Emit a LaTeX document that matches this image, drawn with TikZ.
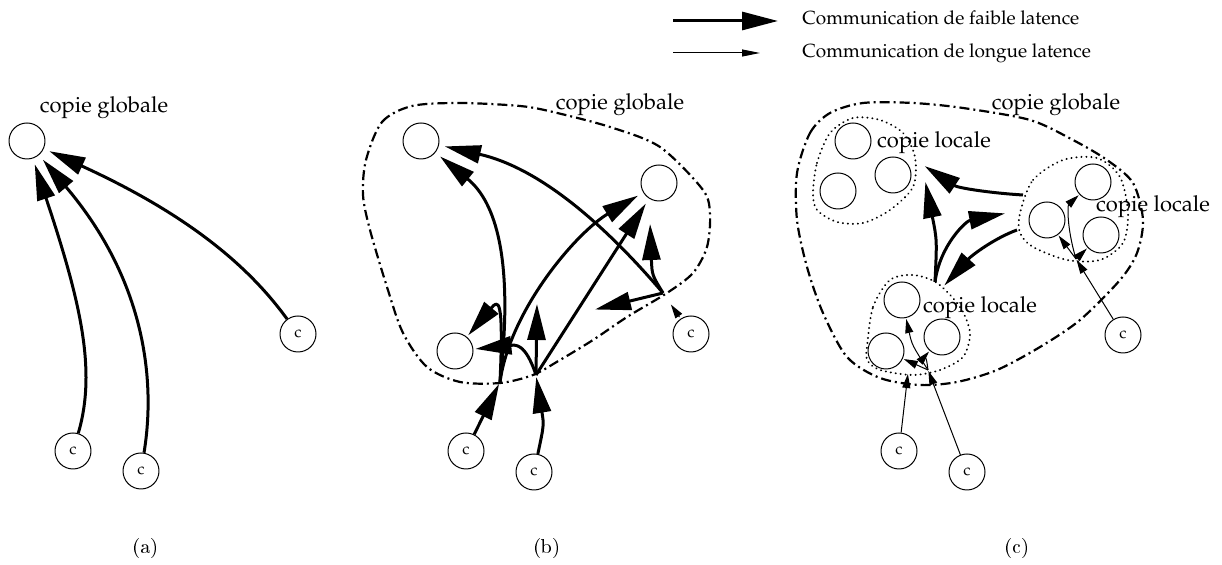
\documentclass[tikz,border=0pt]{standalone}
\usepackage[T1]{fontenc}
\usepackage{mathpazo}
\usetikzlibrary{arrows.meta}
\tikzset{
    every node/.style={font=\fontsize{11}{13}\selectfont},
    main node/.style={circle,draw,line width=0.5pt,minimum size=18pt,inner sep=0pt},
    client node/.style={main node,font=\fontsize{8}{9}\selectfont},
    label node/.style={anchor=base,inner sep=0pt},
    caption node/.style={anchor=base,inner sep=0pt,font=\sffamily\fontsize{10}{12}\selectfont},
    fast link/.style={line width=1.5pt,-{Triangle[length=18pt,width=9pt]},shorten >=1pt},
    slow link/.style={line width=0.5pt,-{Triangle[length=7pt,width=4pt]},shorten >=0.5pt},
    global copy/.style={line width=1.1pt,dash pattern=on 5pt off 2pt on 1pt off 2pt},
    local copy/.style={line width=1pt,dash pattern=on 0.1pt off 2.4pt,line cap=round}
}
\begin{document}
\begin{tikzpicture}[x=0.5pt,y=-0.5pt,line join=round]
    \useasboundingbox (0,0) rectangle (1222,565);

    \coordinate (l1) at (673,21);
    \coordinate (l2) at (778,21);
    \coordinate (l3) at (673,53);
    \coordinate (l4) at (760,53);
    \draw[fast link,shorten >=0pt] (l1) -- (l2);
    \draw[slow link,-{Triangle[length=9pt,width=3.5pt]},shorten >=0pt] (l3) -- (l4);
    \node[anchor=base west,inner sep=0pt,font=\fontsize{9.5}{11}\selectfont] (t1) at (802,25) {Communication de faible latence};
    \node[anchor=base west,inner sep=0pt,font=\fontsize{9.5}{11}\selectfont] (t2) at (802,58) {Communication de longue latence};

    \node[main node] (a0) at (27,141) {};
    \node[label node] (a label) at (104,113) {copie globale};
    \node[client node] (a1) at (73,451) {c};
    \node[client node] (a2) at (141,471) {c};
    \node[client node] (a3) at (298,334) {c};
    \draw[fast link,shorten >=3pt] (a1) .. controls (97,370) and (80,300) .. (a0);
    \draw[fast link,shorten >=3pt] (a2) .. controls (156,380) and (145,280) .. (a0);
    \draw[fast link,shorten >=3pt] (a3) .. controls (255,275) and (200,220) .. (a0);
    \node[caption node] (a caption) at (145,554) {(a)};

    \draw[global copy] plot[smooth cycle] coordinates {(366,160) (382,122) (412,106) (460,103) (520,106) (553,112) (610,127) (660,147) (703,190) (710,215) (707,247) (693,273) (667,293) (627,317) (593,340) (560,360) (533,375) (500,383) (460,382) (427,367) (403,333) (387,287) (370,230) (363,195)};
    \node[main node] (b0) at (421,141) {};
    \node[main node] (b1) at (659,183) {};
    \node[main node] (b2) at (455,351) {};
    \node[label node] (b label) at (620,110) {copie globale};
    \node[client node] (b3) at (466,451) {c};
    \node[client node] (b4) at (534,472) {c};
    \node[client node] (b5) at (691,334) {c};
    \coordinate (bA) at (500,382);
    \coordinate (bB) at (536,375);
    \coordinate (bC) at (663,293);
    \coordinate (bD) at (537,302);
    \coordinate (bE) at (650,222);
    \coordinate (bF) at (593,310);
    \draw[fast link] (b3) -- (bA);
    \draw[fast link] (b4) .. controls (544,425) .. (bB);
    \draw[fast link,shorten >=3pt] (bA) .. controls (514,260) and (496,202) .. (b0);
    \draw[fast link] (bA) .. controls (504,295) and (498,300) .. (b2);
    \draw[fast link,shorten >=3pt] (bA) .. controls (510,310) and (576,233) .. (b1);
    \draw[fast link] (bB) .. controls (525,342) and (515,345) .. (b2);
    \draw[fast link] (bB) -- (bD);
    \draw[fast link,shorten >=3pt] (bB) -- (b1);
    \draw[slow link,shorten <=1pt,shorten >=7pt] (b5) -- (bC);
    \draw[fast link,shorten >=3pt] (bC) .. controls (605,225) and (540,168) .. (b0);
    \draw[fast link] (bC) .. controls (652,275) .. (bE);
    \draw[fast link] (bC) -- (bF);
    \node[caption node] (b caption) at (547,554) {(b)};

    \draw[global copy] plot[smooth cycle] coordinates {(797,173) (810,133) (830,113) (863,103) (913,103) (963,108) (1030,120) (1073,140) (1107,160) (1133,183) (1143,220) (1137,253) (1120,280) (1080,320) (1040,347) (997,370) (957,382) (920,385) (880,378) (847,357) (823,313) (807,267) (797,220)};
    \draw[local copy] plot[smooth cycle] coordinates {(813,193) (817,163) (830,133) (853,118) (880,120) (903,133) (915,157) (913,187) (890,210) (863,223) (837,222) (817,210)};
    \draw[local copy] plot[smooth cycle] coordinates {(1020,213) (1033,180) (1063,160) (1097,158) (1120,177) (1128,213) (1123,243) (1100,260) (1067,260) (1033,247) (1020,233)};
    \draw[local copy] plot[smooth cycle] coordinates {(867,347) (873,307) (890,280) (913,275) (937,283) (960,307) (970,333) (963,357) (940,370) (913,375) (880,370) (867,360)};
    \node[main node] (c0) at (853,141) {};
    \node[main node] (c1) at (838,191) {};
    \node[main node] (c2) at (893,175) {};
    \node[main node] (c3) at (1093,182) {};
    \node[main node] (c4) at (1047,220) {};
    \node[main node] (c5) at (1101,235) {};
    \node[main node] (c6) at (902,300) {};
    \node[main node] (c7) at (886,351) {};
    \node[main node] (c8) at (942,337) {};
    \node[label node] (c label) at (1056,110) {copie globale};
    \node[label node] (c label 1) at (934,148) {copie locale};
    \node[label node] (c label 2) at (1153,212) {copie locale};
    \node[label node] (c label 3) at (980,313) {copie locale};
    \node[client node] (c9) at (899,451) {c};
    \node[client node] (c10) at (967,472) {c};
    \node[client node] (c11) at (1123,335) {c};
    \coordinate (cD) at (935,282);
    \coordinate (cE) at (925,180);
    \coordinate (cF) at (1007,213);
    \coordinate (cG) at (1017,230);
    \coordinate (cH) at (943,287);
    \coordinate (cI) at (1023,195);
    \coordinate (cJ) at (923,165);
    \coordinate (cK) at (908,373);
    \coordinate (cL) at (928,370);
    \coordinate (cM) at (1076,259);
    \draw[fast link] (cD) .. controls (937,240) .. (cE);
    \draw[fast link] (cD) .. controls (940,245) and (966,221) .. (cF);
    \draw[fast link] (cG) .. controls (995,238) and (972,255) .. (cH);
    \draw[fast link] (cI) .. controls (990,193) and (958,188) .. (cJ);
    \draw[slow link] (c9) -- (cK);
    \draw[slow link] (c10) -- (cL);
    \draw[slow link] (cL) -- (c7);
    \draw[slow link] (cL) .. controls (912,345) .. (c6);
    \draw[slow link] (cL) .. controls (926,355) .. (c8);
    \draw[slow link] (c11) -- (cM);
    \draw[slow link] (cM) -- (c4);
    \draw[slow link] (cM) .. controls (1066,225) and (1068,205) .. (c3);
    \draw[slow link] (cM) -- (c5);
    \node[caption node] (c caption) at (1017,554) {(c)};
\end{tikzpicture}
\end{document}
